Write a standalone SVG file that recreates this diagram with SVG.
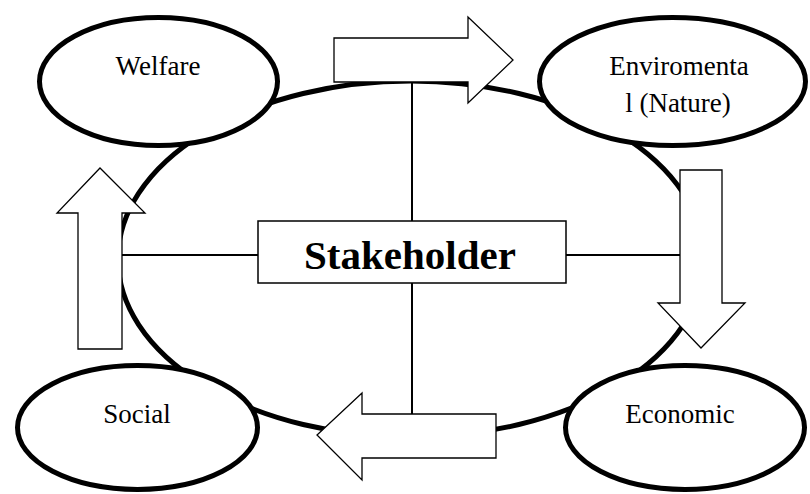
<svg xmlns="http://www.w3.org/2000/svg" width="810" height="494" viewBox="0 0 810 494">
<style>
.bg{fill:#fff}
.ring{fill:none;stroke:#000;stroke-width:5}
.node{fill:#fff;stroke:#000;stroke-width:5}
.arrow{fill:#fff;stroke:#000;stroke-width:1.3;stroke-linejoin:miter}
.line{stroke:#000;stroke-width:2;fill:none}
.box{fill:#fff;stroke:#000;stroke-width:1.5}
.lbl{font-family:"Liberation Serif","Times New Roman",serif;font-size:27px;fill:#000;text-anchor:middle}
.title{font-family:"Liberation Serif","Times New Roman",serif;font-size:41px;font-weight:bold;fill:#000;text-anchor:middle}
</style>
<rect class="bg" x="0" y="0" width="810" height="494"/>
<ellipse id="ring" class="ring" cx="411" cy="259" rx="293" ry="178"/>
<g id="connectors">
<line class="line" x1="412" y1="83" x2="412" y2="221"/>
<line class="line" x1="412" y1="283" x2="412" y2="414"/>
<line class="line" x1="122" y1="255" x2="258" y2="255"/>
<line class="line" x1="566" y1="255" x2="680" y2="255"/>
<path id="arrow-top" class="arrow" d="M334,38 H468 V17 L513,60 L468,103 V82 H334 Z"/>
<path id="arrow-right" class="arrow" d="M680,170 H722 V303 H745 L701,348 L658,303 H680 Z"/>
<path id="arrow-bottom" class="arrow" d="M496,414 H362 V393 L317,435 L362,480 V458 H496 Z"/>
<path id="arrow-left" class="arrow" d="M78,349 V213 H57 L100,168 L145,213 H122 V349 Z"/>
</g>
<g id="stakeholder">
<rect class="box" x="258" y="221" width="308" height="62"/>
<text class="title" x="410" y="269">Stakeholder</text>
</g>
<g id="welfare">
<ellipse class="node" cx="158.5" cy="81.5" rx="119" ry="64"/>
<text class="lbl" x="158" y="75">Welfare</text>
</g>
<g id="environmental">
<ellipse class="node" cx="672.5" cy="81.5" rx="133" ry="64"/>
<text class="lbl" x="679" y="75">Enviromenta</text>
<text class="lbl" x="678" y="112">l (Nature)</text>
</g>
<g id="social">
<ellipse class="node" cx="137.5" cy="427.5" rx="120" ry="62"/>
<text class="lbl" x="137" y="423">Social</text>
</g>
<g id="economic">
<ellipse class="node" cx="685" cy="427.5" rx="119.5" ry="62"/>
<text class="lbl" x="680" y="423">Economic</text>
</g>
</svg>
